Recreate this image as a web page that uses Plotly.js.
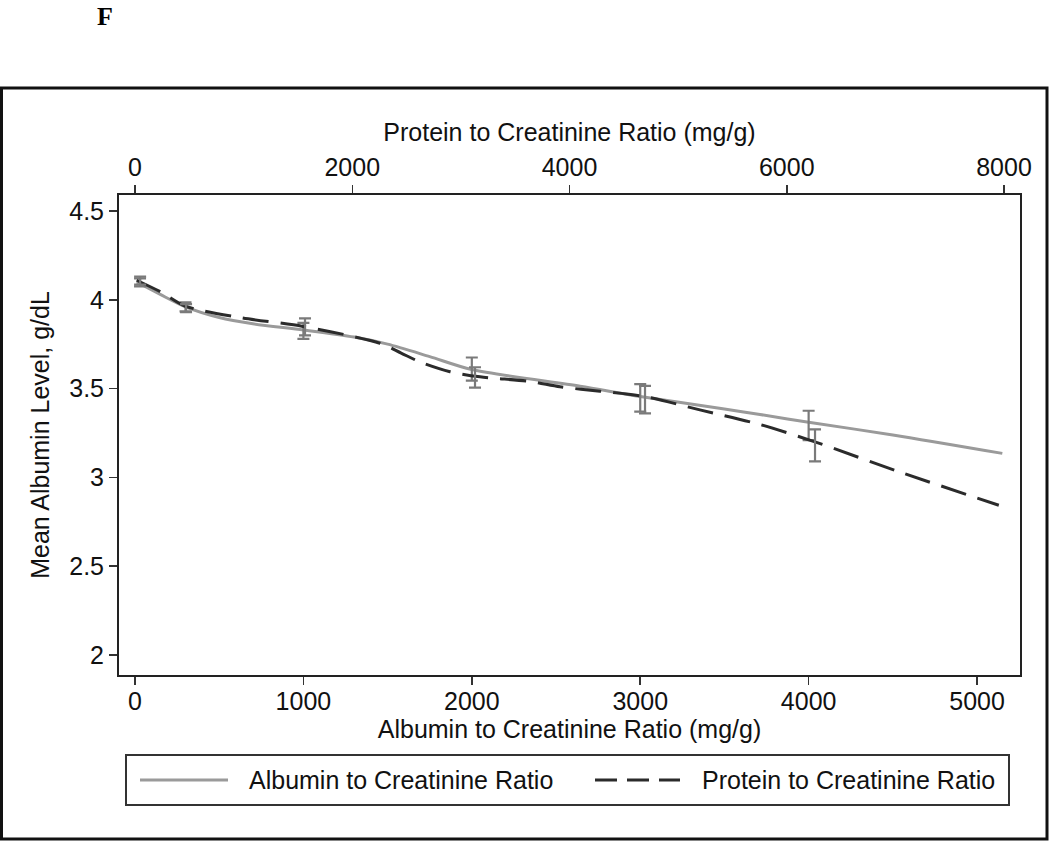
<!DOCTYPE html>
<html><head><meta charset="utf-8">
<script src="https://cdn.plot.ly/plotly-3.0.1.min.js"></script>
<style>html,body{margin:0;padding:0;background:#fff}#chart{width:1050px;height:842px}</style>
</head><body><div id="chart"></div><script>
// Smoothed curve: Albumin to Creatinine Ratio (bottom axis)
const acrCurveX = [10, 150, 300, 500, 700, 1000, 1300, 1500, 1750, 2000, 2643, 3000, 3500, 3711, 4000, 4500, 5150];
const acrCurveY = [4.10, 4.03, 3.96, 3.90, 3.865, 3.83, 3.79, 3.75, 3.68, 3.607, 3.513, 3.455, 3.385, 3.354, 3.31, 3.239, 3.135];
// Smoothed curve: Protein to Creatinine Ratio (top axis)
const pcrCurveX = [15, 250, 460, 966, 1546, 2255, 2450, 2623, 2900, 3176, 3636, 3912, 4280, 4694, 5200, 5752, 6259, 7041, 7952];
const pcrCurveY = [4.11, 4.04, 3.965, 3.90, 3.85, 3.755, 3.70, 3.65, 3.595, 3.566, 3.54, 3.51, 3.485, 3.455, 3.38, 3.298, 3.20, 3.03, 2.843];
// 95% CI error bars
const acrPtX = [30, 300, 1000, 2000, 3000, 4000];
const acrLow = [4.075, 3.935, 3.78, 3.545, 3.37, 3.21];
const acrHigh = [4.12, 3.985, 3.87, 3.675, 3.525, 3.375];
const pcrPtX = [47, 470, 1565, 3130, 4695, 6260];
const pcrLow = [4.085, 3.93, 3.80, 3.505, 3.36, 3.09];
const pcrHigh = [4.13, 3.975, 3.895, 3.62, 3.515, 3.27];
// Tick labels
const xTicks = [0, 1000, 2000, 3000, 4000, 5000];
const x2Ticks = [0, 2000, 4000, 6000, 8000];
const yTicks = [2, 2.5, 3, 3.5, 4, 4.5];
const yTickText = ['2', '2.5', '3', '3.5', '4', '4.5'];
const seriesNames = ['Albumin to Creatinine Ratio', 'Protein to Creatinine Ratio'];

const mid = (lo, hi) => lo.map((v, i) => (v + hi[i]) / 2);
const acrMid = mid(acrLow, acrHigh), pcrMid = mid(pcrLow, pcrHigh);

const FONT = 'Liberation Sans, Arial, sans-serif';
const FS = 25;
const solidColor = '#9a9a9a', dashColor = '#2b2b2b', barColor = '#7a7a7a';

const traces = [
  {x: acrCurveX, y: acrCurveY, xaxis: 'x', yaxis: 'y', mode: 'lines', name: seriesNames[0],
   line: {color: solidColor, width: 3, shape: 'spline', smoothing: 0.8}, showlegend: false, hoverinfo: 'skip'},
  {x: pcrCurveX, y: pcrCurveY, xaxis: 'x2', yaxis: 'y', mode: 'lines', name: seriesNames[1],
   line: {color: dashColor, width: 3, dash: '26px,12px', shape: 'spline', smoothing: 0.8}, showlegend: false, hoverinfo: 'skip'},
  {x: acrPtX, y: acrMid, xaxis: 'x', yaxis: 'y', mode: 'markers', marker: {size: 1, color: 'rgba(0,0,0,0)'},
   error_y: {type: 'data', symmetric: false, array: acrHigh.map((v, i) => v - acrMid[i]), arrayminus: acrMid.map((v, i) => v - acrLow[i]),
             color: barColor, thickness: 2.2, width: 6}, showlegend: false, hoverinfo: 'skip'},
  {x: pcrPtX, y: pcrMid, xaxis: 'x2', yaxis: 'y', mode: 'markers', marker: {size: 1, color: 'rgba(0,0,0,0)'},
   error_y: {type: 'data', symmetric: false, array: pcrHigh.map((v, i) => v - pcrMid[i]), arrayminus: pcrMid.map((v, i) => v - pcrLow[i]),
             color: barColor, thickness: 2.2, width: 6}, showlegend: false, hoverinfo: 'skip'}
];

const L = 119, R = 1020, T = 195, B = 675;
const px = v => (v - L) / (R - L);
const py = v => (B - v) / (B - T);

const axisCommon = {
  showgrid: false, zeroline: false, showline: true, linecolor: '#222', linewidth: 2,
  ticks: 'outside', ticklen: 8, tickwidth: 1.5, tickcolor: '#333',
  tickfont: {family: FONT, size: FS, color: '#111'}
};

const layout = {
  width: 1050, height: 842,
  margin: {l: L, r: 1050 - R, t: T, b: 842 - B, pad: 0},
  paper_bgcolor: '#fff', plot_bgcolor: '#fff',
  font: {family: FONT, color: '#111'},
  showlegend: false,
  xaxis: Object.assign({}, axisCommon, {range: [-95, 5255], tickvals: xTicks, ticktext: xTicks.map(String), ticklabelstandoff: -5,
    title: {text: 'Albumin to Creatinine Ratio (mg/g)', font: {family: FONT, size: FS, color: '#111'}, standoff: 1}}),
  xaxis2: Object.assign({}, axisCommon, {overlaying: 'x', side: 'top', range: [-147.3, 8147], tickvals: x2Ticks, ticktext: x2Ticks.map(String),
    ticklabelstandoff: -1,
    title: {text: 'Protein to Creatinine Ratio (mg/g)', font: {family: FONT, size: FS, color: '#111'}, standoff: 4}}),
  yaxis: Object.assign({}, axisCommon, {range: [1.887, 4.59], tickvals: yTicks, ticktext: yTickText, mirror: true,
    title: {text: 'Mean Albumin Level, g/dL', font: {family: FONT, size: FS, color: '#111'}, standoff: 12}}),
  shapes: [
    {type: 'rect', xref: 'paper', yref: 'paper', x0: px(1.5), x1: px(1047), y0: py(839), y1: py(88), line: {color: '#111', width: 3}},
    {type: 'rect', xref: 'paper', yref: 'paper', x0: px(126), x1: px(1009), y0: py(805), y1: py(755), line: {color: '#333', width: 2}},
    {type: 'line', xref: 'paper', yref: 'paper', x0: px(140), x1: px(228), y0: py(780), y1: py(780), line: {color: solidColor, width: 3}},
    {type: 'line', xref: 'paper', yref: 'paper', x0: px(595), x1: px(680), y0: py(780), y1: py(780), line: {color: dashColor, width: 3, dash: '22px,10px'}}
  ],
  annotations: [
    {xref: 'paper', yref: 'paper', x: px(247), y: py(780), xanchor: 'left', yanchor: 'middle', showarrow: false,
     text: seriesNames[0], font: {family: FONT, size: FS, color: '#111'}},
    {xref: 'paper', yref: 'paper', x: px(700), y: py(780), xanchor: 'left', yanchor: 'middle', showarrow: false,
     text: seriesNames[1], font: {family: FONT, size: FS, color: '#111'}},
    {xref: 'paper', yref: 'paper', x: px(105), y: py(16), xanchor: 'center', yanchor: 'middle', showarrow: false,
     text: '<b>F</b>', font: {family: 'Liberation Serif, Times New Roman, serif', size: 26, color: '#000'}}
  ]
};

Plotly.newPlot('chart', traces, layout, {displayModeBar: false, staticPlot: true});
</script></body></html>
